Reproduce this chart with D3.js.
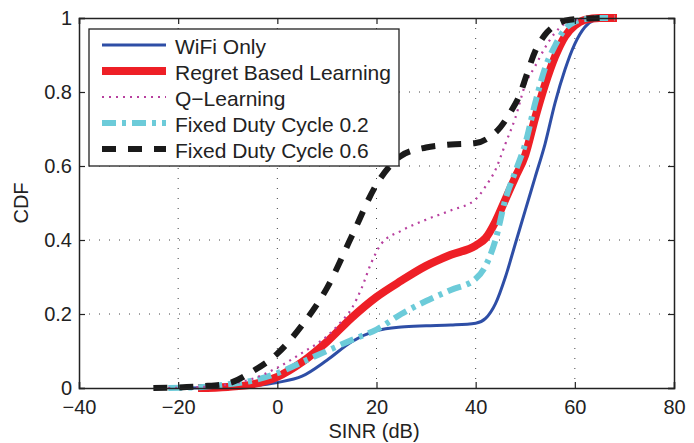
<!DOCTYPE html>
<html><head><meta charset="utf-8">
<script src="https://cdn.jsdelivr.net/npm/d3@7"></script>
<style>body{margin:0;background:#fff}svg{display:block}</style>
</head><body><svg id="c" width="694" height="443"></svg>
<script>
// ---- data ----
const xTicks = [-40, -20, 0, 20, 40, 60, 80];
const yTicks = [0, 0.2, 0.4, 0.6, 0.8, 1];
const yTickLabels = ["0", "0.2", "0.4", "0.6", "0.8", "1"];
const seriesNames = ["WiFi Only", "Regret Based Learning", "Q\u2212Learning", "Fixed Duty Cycle 0.2", "Fixed Duty Cycle 0.6"];

const wifiX = [-20, -10, -5, 0, 5, 10, 15, 20, 25, 30, 35, 40, 42, 44, 46, 48, 50, 52, 54, 56, 58, 60, 62, 64, 66];
const wifiY = [0, 0.002, 0.006, 0.015, 0.032, 0.075, 0.125, 0.155, 0.165, 0.168, 0.17, 0.175, 0.188, 0.228, 0.3, 0.39, 0.48, 0.57, 0.66, 0.77, 0.86, 0.93, 0.975, 0.995, 1];

const regretX = [-16, -10, -5, 0, 5, 10, 15, 20, 25, 30, 35, 40, 42, 44, 46, 48, 50, 52, 54, 56, 58, 60, 62, 65, 68.5];
const regretY = [0, 0.003, 0.01, 0.03, 0.07, 0.125, 0.19, 0.246, 0.29, 0.33, 0.36, 0.385, 0.405, 0.45, 0.51, 0.57, 0.63, 0.73, 0.82, 0.895, 0.95, 0.98, 0.995, 1, 1];

const qX = [-22, -15, -10, -5, 0, 5, 10, 12.6, 15, 17, 19, 21, 25, 30, 35, 40, 42, 44, 46, 48, 50, 52, 54, 56, 58, 60, 65];
const qY = [0, 0.003, 0.01, 0.025, 0.055, 0.095, 0.14, 0.175, 0.215, 0.27, 0.34, 0.39, 0.425, 0.455, 0.48, 0.51, 0.545, 0.59, 0.66, 0.73, 0.82, 0.87, 0.92, 0.96, 0.985, 0.995, 1];

const fixed2X = [-22, -15, -10, -5, 0, 5, 10, 15, 20, 25, 30, 35, 40, 42, 44, 46, 48, 50, 52, 54, 56, 58, 60, 62, 65, 68];
const fixed2Y = [0, 0.003, 0.01, 0.02, 0.04, 0.07, 0.1, 0.13, 0.158, 0.2, 0.235, 0.265, 0.295, 0.33, 0.4, 0.51, 0.585, 0.66, 0.77, 0.865, 0.925, 0.97, 0.99, 0.997, 1, 1];

const fixed6X = [-25, -15, -10, -5, 0, 5, 10, 15, 20, 25, 30, 35, 40, 43, 45, 47, 49, 50, 52, 54, 56, 59, 65];
const fixed6Y = [0, 0.005, 0.012, 0.045, 0.093, 0.17, 0.27, 0.41, 0.55, 0.628, 0.65, 0.658, 0.662, 0.68, 0.705, 0.745, 0.796, 0.835, 0.91, 0.955, 0.98, 0.995, 1];

// ---- styles ----
const styles = [
  {color: "#2e4ea6", width: 3, dash: null},
  {color: "#ee1f26", width: 8, dash: null},
  {color: "#b8409f", width: 2.2, dash: "2,5"},
  {color: "#6ccbd9", width: 6, dash: "14,6,4,6"},
  {color: "#1a1a1a", width: 6, dash: "14,12"}
];
const seriesData = [
  d3.zip(wifiX, wifiY), d3.zip(regretX, regretY), d3.zip(qX, qY),
  d3.zip(fixed2X, fixed2Y), d3.zip(fixed6X, fixed6Y)
];
const drawOrder = [0, 1, 3, 2, 4];

const svg = d3.select("#c");
const L = 79, R = 674, T = 18, B = 388;
const x = d3.scaleLinear().domain([-40, 80]).range([L, R]);
const y = d3.scaleLinear().domain([0, 1]).range([B, T]);
const font = "'Liberation Sans', Arial, Helvetica, sans-serif";

// grid
const g = svg.append("g");
g.selectAll(".vg").data(xTicks.slice(1, -1)).enter().append("line")
  .attr("x1", d => x(d)).attr("x2", d => x(d)).attr("y1", T).attr("y2", B)
  .attr("stroke", "#444").attr("stroke-width", 1).attr("stroke-dasharray", "1,9");
g.selectAll(".hg").data(yTicks.slice(1, -1)).enter().append("line")
  .attr("y1", d => y(d)).attr("y2", d => y(d)).attr("x1", L).attr("x2", R)
  .attr("stroke", "#444").attr("stroke-width", 1).attr("stroke-dasharray", "1,9");

// curves
const line = d3.line().x(d => x(d[0])).y(d => y(d[1])).curve(d3.curveMonotoneX);
drawOrder.forEach(i => {
  const s = styles[i];
  svg.append("path").datum(seriesData[i]).attr("d", line)
    .attr("fill", "none").attr("stroke", s.color).attr("stroke-width", s.width)
    .attr("stroke-dasharray", s.dash).attr("stroke-linejoin", "round");
});

// axes
const tl = 6;
const axB = svg.append("g").attr("transform", `translate(0,${B})`)
  .call(d3.axisBottom(x).tickValues(xTicks).tickSize(-tl).tickFormat(d => d < 0 ? "\u2212" + Math.abs(d) : d).tickPadding(13));
const axT = svg.append("g").attr("transform", `translate(0,${T})`)
  .call(d3.axisTop(x).tickValues(xTicks).tickSize(-tl).tickFormat(""));
const axL = svg.append("g").attr("transform", `translate(${L},0)`)
  .call(d3.axisLeft(y).tickValues(yTicks).tickSize(-tl).tickFormat((d, i) => yTickLabels[i]).tickPadding(7));
const axR = svg.append("g").attr("transform", `translate(${R},0)`)
  .call(d3.axisRight(y).tickValues(yTicks).tickSize(-tl).tickFormat(""));
[axB, axT, axL, axR].forEach(a => {
  a.select(".domain").attr("stroke", "#222").attr("stroke-width", 1.5);
  a.selectAll(".tick line").attr("stroke", "#222").attr("stroke-width", 1.2);
  a.selectAll("text").attr("font-family", font).attr("font-size", 20).attr("fill", "#222");
});
axB.selectAll("text").attr("dy", "0.66em");
axL.selectAll("text").attr("dy", "0.3em");

// axis titles
svg.append("text").attr("x", 374).attr("y", 438).attr("text-anchor", "middle")
  .attr("font-family", font).attr("font-size", 20).attr("fill", "#222").text("SINR (dB)");
svg.append("text").attr("transform", "translate(28,203) rotate(-90)").attr("text-anchor", "middle")
  .attr("font-family", font).attr("font-size", 20).attr("fill", "#222").text("CDF");

// legend
const lg = svg.append("g");
lg.append("rect").attr("x", 89).attr("y", 29).attr("width", 310).attr("height", 137)
  .attr("fill", "#fff").attr("stroke", "#222").attr("stroke-width", 1.3);
seriesNames.forEach((name, i) => {
  const cy = 46 + i * 26, s = styles[i];
  lg.append("line").attr("x1", 102).attr("x2", 166).attr("y1", cy - 1).attr("y2", cy - 1)
    .attr("stroke", s.color).attr("stroke-width", s.width).attr("stroke-dasharray", s.dash);
  lg.append("text").attr("x", 175).attr("y", cy + 7.5).attr("font-family", font)
    .attr("font-size", 21).attr("fill", "#222").text(name);
});
</script></body></html>
